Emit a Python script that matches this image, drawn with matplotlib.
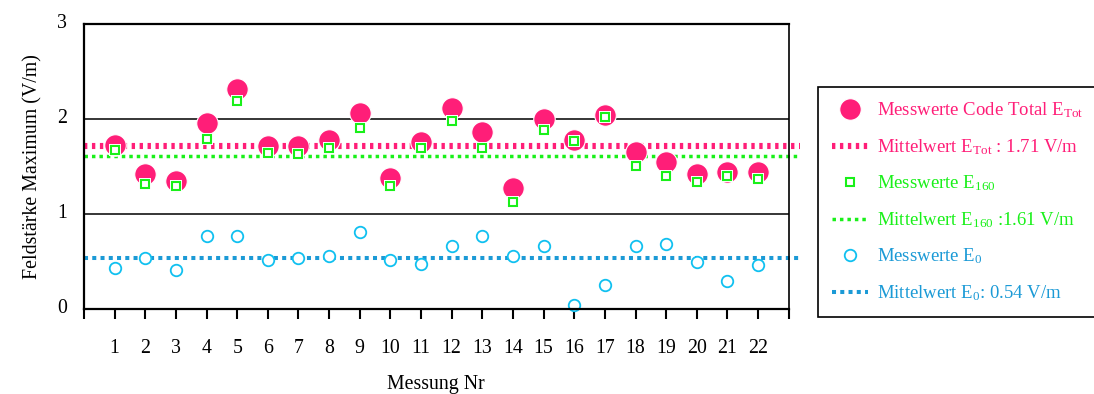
import matplotlib
matplotlib.use("Agg")
import matplotlib.pyplot as plt
import matplotlib.transforms as mtransforms

plt.rcParams['font.family'] = ['Liberation Serif', 'DejaVu Serif']
plt.rcParams['mathtext.fontset'] = 'custom'
plt.rcParams['mathtext.rm'] = 'Liberation Serif'
plt.rcParams['mathtext.it'] = 'Liberation Serif:italic'
plt.rcParams['mathtext.bf'] = 'Liberation Serif:bold'

# Measurement numbers and field strength maxima (V/m)
messung = list(range(1, 23))
e_tot = [1.72, 1.42, 1.35, 1.96, 2.31, 1.71, 1.71, 1.78, 2.06, 1.38, 1.76,
         2.11, 1.86, 1.27, 2.00, 1.78, 2.04, 1.65, 1.55, 1.42, 1.44, 1.44]
e_160 = [1.67, 1.31, 1.29, 1.79, 2.19, 1.64, 1.63, 1.69, 1.90, 1.29, 1.69,
         1.98, 1.69, 1.13, 1.88, 1.77, 2.02, 1.50, 1.40, 1.34, 1.40, 1.37]
e_0 = [0.43, 0.54, 0.41, 0.77, 0.77, 0.52, 0.54, 0.56, 0.81, 0.52, 0.47,
       0.66, 0.77, 0.56, 0.66, 0.04, 0.25, 0.66, 0.68, 0.49, 0.29, 0.46]

mean_tot = 1.71
mean_160 = 1.61
mean_0 = 0.54

pink = '#FF1E78'
green = '#19F019'
cyan = '#10C0F0'
blue = '#1B9AD6'

FS = 14.3
LEG_FS = 13.5

fig = plt.figure(figsize=(10.94, 3.94), dpi=100)
ax = fig.add_axes([84 / 1094, 1 - 309 / 394, (788.7 - 84) / 1094, (309 - 23.7) / 394])

ax.set_xlim(0, 23)
ax.set_ylim(0, 3)

# horizontal reference lines
for yv in (1, 2):
    ax.axhline(yv, color='black', lw=1.1, zorder=1)

# mean lines, running slightly past the right border
xm = [0, 23.37]
l_tot, = ax.plot(xm, [mean_tot] * 2, color=pink, lw=4.4, dashes=(0.55, 0.75),
                 dash_capstyle='butt', clip_on=False, zorder=2)
l_160, = ax.plot(xm, [mean_160] * 2, color=green, lw=2.5, dashes=(1.0, 1.15),
                 dash_capstyle='butt', clip_on=False, zorder=2)
l_0, = ax.plot(xm, [mean_0] * 2, color=blue, lw=2.9, dashes=(1.0, 1.05),
               dash_capstyle='butt', clip_on=False, zorder=2)

# measured values
p_tot, = ax.plot(messung, e_tot, 'o', ms=15.5, mfc=pink, mec='white', mew=0.8,
                 ls='none', zorder=3, clip_on=False)
ax.plot(messung, e_160, 's', ms=8.5, mfc='white', mec='white', mew=0,
        ls='none', zorder=4)
p_160, = ax.plot(messung, e_160, 's', ms=6.3, mfc='white', mec=green, mew=1.5,
                 ls='none', zorder=5)
p_0, = ax.plot(messung, e_0, 'o', ms=8.3, mfc='white', mec=cyan, mew=1.3,
               ls='none', zorder=6, clip_on=False)

# axes styling
for side in ('top', 'left', 'bottom'):
    ax.spines[side].set_linewidth(1.6)
ax.spines['right'].set_linewidth(1.2)
for s in ax.spines.values():
    s.set_zorder(7)

ax.set_xticks(range(0, 24))
ax.set_xticklabels([''] + [str(m) for m in messung] + [''])
ax.set_yticks([0, 1, 2, 3])
ax.set_yticklabels(['0', '1', '2', '3'])
ax.tick_params(axis='x', direction='out', length=7.5, width=1.5, pad=14,
               labelsize=FS)
ax.tick_params(axis='y', length=0, pad=12, labelsize=FS)
offset = mtransforms.ScaledTranslation(0, 3 / 100, fig.dpi_scale_trans)
for lab in ax.get_yticklabels():
    lab.set_transform(lab.get_transform() + offset)

ax.set_xlabel('Messung Nr', fontsize=FS, labelpad=12)
ax.set_ylabel('Feldstärke Maximum (V/m)', fontsize=FS, labelpad=11)

handles = [p_tot, l_tot, p_160, l_160, p_0, l_0]
labels = [
    r'Messwerte Code Total E$_{\mathrm{Tot}}$',
    r'Mittelwert E$_{\mathrm{Tot}}$ : ' + f'{mean_tot:.2f} V/m',
    r'Messwerte E$_{\mathrm{160}}$',
    r'Mittelwert E$_{\mathrm{160}}$ :' + f'{mean_160:.2f} V/m',
    r'Messwerte E$_{\mathrm{0}}$',
    r'Mittelwert E$_{\mathrm{0}}$: ' + f'{mean_0:.2f} V/m',
]
text_colors = [pink, pink, green, green, blue, blue]

leg = fig.legend(handles, labels, loc='upper left',
                 bbox_to_anchor=(818 / 1094, 1 - 87 / 394),
                 bbox_transform=fig.transFigure,
                 fontsize=LEG_FS, frameon=True, fancybox=False,
                 edgecolor='black', framealpha=1, borderpad=0.72,
                 labelspacing=0.9, handlelength=1.95, handletextpad=0.5,
                 borderaxespad=0, numpoints=1)
leg.get_frame().set_linewidth(1.2)
for t, c in zip(leg.get_texts(), text_colors):
    t.set_color(c)

fig.savefig('out.png', dpi=100)
